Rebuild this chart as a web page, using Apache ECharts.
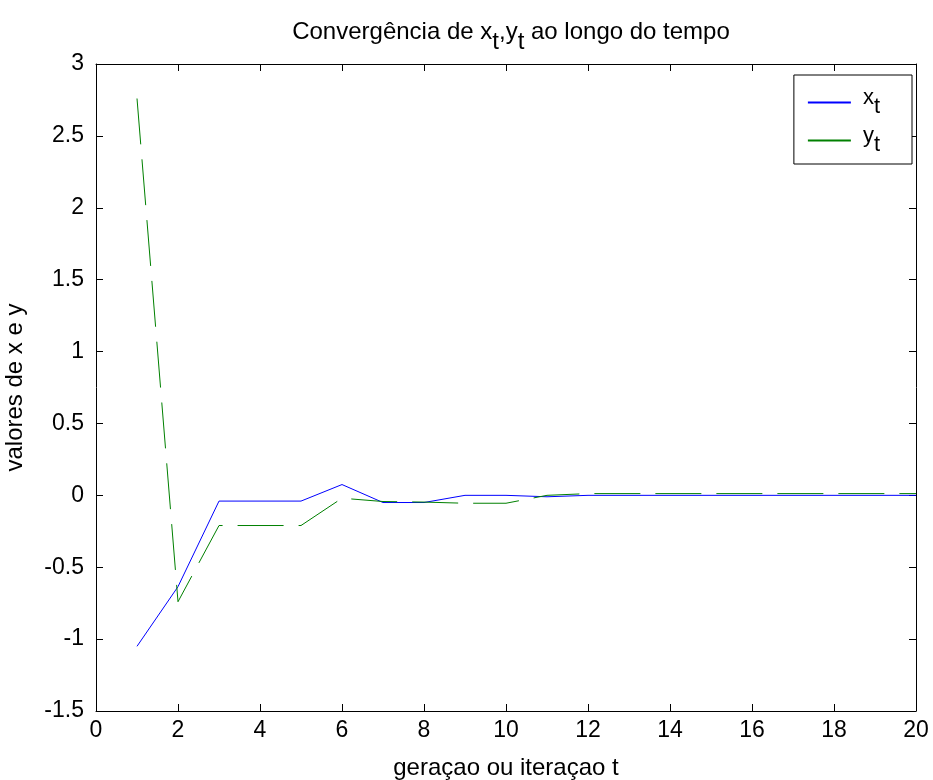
<!DOCTYPE html>
<html>
<head>
<meta charset="utf-8">
<script src="https://cdn.jsdelivr.net/npm/echarts@6/dist/echarts.min.js"></script>
<style>
  html, body { margin: 0; padding: 0; background: #fff; }
  #chart { width: 933px; height: 780px; }
</style>
</head>
<body>
<div id="chart"></div>
<script>
// iteracoes t
var tVals = [1, 2, 3, 4, 5, 6, 7, 8, 9, 10, 11, 12, 13, 14, 15, 16, 17, 18, 19, 20];
// x_t
var xVals = [-1.05, -0.635, -0.04, -0.04, -0.04, 0.075, -0.05, -0.05, 0.0, 0.0,
             -0.01, 0.0, 0.0, 0.0, 0.0, 0.0, 0.0, 0.0, 0.0, 0.0];
// y_t
var yVals = [2.76, -0.74, -0.21, -0.21, -0.21, -0.02, -0.043, -0.047, -0.055, -0.055,
             0.0, 0.012, 0.012, 0.012, 0.012, 0.012, 0.012, 0.012, 0.012, 0.012];

var FONT = '"Liberation Sans", Arial, sans-serif';

function pairs(xs, ys) {
  var out = [];
  for (var i = 0; i < xs.length; i++) out.push([xs[i], ys[i]]);
  return out;
}

// rich styles for text with subscript t
function subRich(size, drop) {
  return {
    a: { fontFamily: FONT, fontSize: size, fontWeight: 'normal', color: '#000', verticalAlign: 'top' },
    s: { fontFamily: FONT, fontSize: size, fontWeight: 'normal', color: '#000', verticalAlign: 'top', padding: [drop, 0, 0, 0] }
  };
}

var chart = echarts.init(document.getElementById('chart'));

var tickStyle = { inside: true, length: 7, lineStyle: { color: '#000', width: 1 } };
var lineStyleAx = { show: true, onZero: false, lineStyle: { color: '#000', width: 1 } };

chart.setOption({
  animation: false,
  backgroundColor: '#fff',
  title: {
    text: '{a|Convergência de x}{s|t}{a|,y}{s|t}{a| ao longo do tempo}',
    left: 506,
    top: 15,
    textAlign: 'center',
    textStyle: { fontWeight: 'normal', rich: subRich(24, 10) }
  },
  legend: {
    orient: 'vertical',
    right: 21,
    top: 75,
    padding: [12, 32, 8, 14],
    itemWidth: 43,
    itemHeight: 2,
    itemGap: 7,
    borderColor: '#000',
    borderWidth: 1,
    borderRadius: 0,
    backgroundColor: '#fff',
    icon: 'rect',
    formatter: function (name) {
      return '{a|' + name.charAt(0) + '}{s|' + name.slice(1) + '}';
    },
    textStyle: {
      padding: [0, 0, 0, 7],
      rich: subRich(22, 9)
    },
    data: ['xt', 'yt']
  },
  grid: { left: 96, right: 17, top: 64, bottom: 69, outerBoundsMode: 'none' },
  xAxis: [{
    type: 'value',
    min: 0, max: 20, interval: 2,
    position: 'bottom',
    name: 'geraçao ou iteraçao t',
    nameLocation: 'middle',
    nameGap: 45,
    nameTextStyle: { fontFamily: FONT, fontSize: 24, color: '#000' },
    axisLine: lineStyleAx,
    axisTick: tickStyle,
    axisLabel: { fontFamily: FONT, fontSize: 23, color: '#000', margin: 8 },
    splitLine: { show: false }
  }, {
    type: 'value',
    min: 0, max: 20, interval: 2,
    position: 'top',
    axisLine: lineStyleAx,
    axisTick: tickStyle,
    axisLabel: { show: false },
    splitLine: { show: false }
  }],
  yAxis: [{
    type: 'value',
    min: -1.5, max: 3, interval: 0.5,
    position: 'left',
    name: 'valores de x e y',
    nameLocation: 'middle',
    nameGap: 69,
    nameTextStyle: { fontFamily: FONT, fontSize: 24, color: '#000' },
    axisLine: lineStyleAx,
    axisTick: tickStyle,
    axisLabel: { fontFamily: FONT, fontSize: 23, color: '#000', margin: 12 },
    splitLine: { show: false }
  }, {
    type: 'value',
    min: -1.5, max: 3, interval: 0.5,
    position: 'right',
    axisLine: lineStyleAx,
    axisTick: tickStyle,
    axisLabel: { show: false },
    splitLine: { show: false }
  }],
  series: [{
    name: 'xt',
    type: 'line',
    data: pairs(tVals, xVals),
    showSymbol: false,
    symbol: 'none',
    itemStyle: { color: '#0000ff' },
    lineStyle: { color: '#0000ff', width: 1 }
  }, {
    name: 'yt',
    type: 'line',
    data: pairs(tVals, yVals),
    showSymbol: false,
    symbol: 'none',
    itemStyle: { color: '#008000' },
    lineStyle: { color: '#008000', width: 1, type: [46, 15] }
  }]
});
</script>
</body>
</html>
